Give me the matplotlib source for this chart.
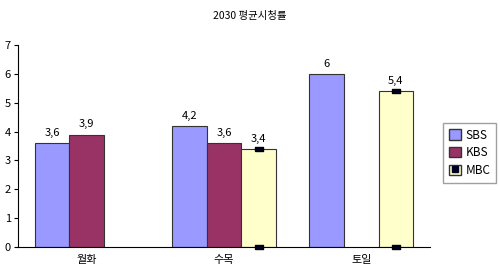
import numpy as np
import matplotlib
matplotlib.use("Agg")
import matplotlib.pyplot as plt
from matplotlib.patches import Patch
from matplotlib.lines import Line2D
from matplotlib.legend_handler import HandlerTuple

plt.rcParams["font.family"] = ["Noto Sans CJK KR", "DejaVu Sans"]

categories = ["월화", "수목", "토일"]
series = ["SBS", "KBS", "MBC"]
sbs = [3.6, 4.2, 6.0]
kbs = [3.9, 3.6, np.nan]
mbc = [np.nan, 3.4, 5.4]
colors = ["#9999FF", "#993366", "#FFFFCC"]

# flat rectangle marker like the original
rect = [(-1, -0.55), (1, -0.55), (1, 0.55), (-1, 0.55), (-1, -0.55)]

fig = plt.figure(figsize=(5, 2.68), dpi=100)
ax = fig.add_axes([0.036, 0.078, 0.824, 0.754])

x = np.arange(len(categories))
width = 0.252
values = [sbs, kbs, mbc]
for i, (name, vals, c) in enumerate(zip(series, values, colors)):
    pos = x + (i - 1) * width
    ax.bar(pos, vals, width, color=c, edgecolor="#333333", linewidth=0.8)
    for p, v in zip(pos, vals):
        if not np.isnan(v):
            txt = f"{v:g}".replace(".", ",")
            ax.text(p, v + 0.18, txt, ha="center", va="bottom", fontsize=8)

# MBC markers at bar top and base
mpos = x + width
mvals = np.array(mbc)
ok = ~np.isnan(mvals)
ax.plot(mpos[ok], mvals[ok], ls="none", marker=rect, ms=6, color="#000022",
        mec="black", zorder=5)
ax.plot(mpos[ok], np.zeros(ok.sum()), ls="none", marker=rect, ms=6,
        color="#000022", mec="black", zorder=5, clip_on=False)

ax.set_xlim(-0.5, 2.5)
ax.set_ylim(0, 7)
ax.set_yticks(range(8))
ax.set_xticks(x)
ax.set_xticklabels(categories, fontsize=8)
ax.tick_params(axis="x", length=0, pad=6)
ax.tick_params(axis="y", length=3, labelsize=8, pad=2)
for s in ["top", "right"]:
    ax.spines[s].set_visible(False)

fig.text(0.5, 0.94, "2030 평균시청률", ha="center", va="center", fontsize=7.5)

handles = [
    Patch(facecolor=colors[0], edgecolor="#333333"),
    Patch(facecolor=colors[1], edgecolor="#333333"),
    (Patch(facecolor=colors[2], edgecolor="#333333"),
     Line2D([], [], marker="s", ms=4, color="#000022", ls="none")),
]
fig.legend(handles, series, loc="center left", bbox_to_anchor=(0.874, 0.43),
           fontsize=8.5, frameon=True, fancybox=False, edgecolor="#888888",
           handlelength=1.0, handleheight=1.0, handletextpad=0.4,
           borderpad=0.5, labelspacing=0.4,
           handler_map={tuple: HandlerTuple(ndivide=1)})

fig.savefig("out.png", dpi=100)
